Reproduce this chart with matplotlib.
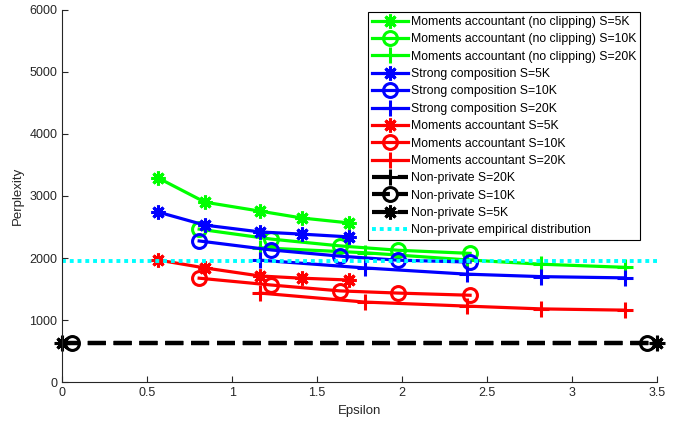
import numpy as np
import matplotlib
matplotlib.use("Agg")
import matplotlib.pyplot as plt

plt.rcParams["font.family"] = ["Liberation Sans", "DejaVu Sans"]

# epsilon values per batch size
eps_5k = [0.565, 0.84, 1.165, 1.41, 1.69]
eps_10k = [0.806, 1.23, 1.635, 1.976, 2.40]
eps_20k = [1.165, 1.78, 2.38, 2.82, 3.31]

# perplexity values
ma_noclip_5k = [3290, 2900, 2755, 2645, 2565]
ma_noclip_10k = [2465, 2305, 2195, 2125, 2075]
ma_noclip_20k = [2165, 2085, 1970, 1900, 1850]
strong_5k = [2740, 2530, 2420, 2385, 2340]
strong_10k = [2275, 2130, 2030, 1965, 1935]
strong_20k = [1965, 1840, 1740, 1700, 1680]
ma_5k = [1968, 1840, 1710, 1675, 1645]
ma_10k = [1675, 1565, 1470, 1435, 1400]
ma_20k = [1435, 1290, 1225, 1180, 1160]

nonpriv_20k_x = [0.0, 3.5]
nonpriv_20k = [630, 630]
nonpriv_10k_x = [0.0, 0.055, 3.44, 3.5]
nonpriv_10k = [630, 630, 630, 630]
nonpriv_5k_x = [0.0, 3.5]
nonpriv_5k = [630, 630]
empirical_x = [0.0, 3.5]
empirical = [1950, 1950]

ast = (8, 2, 0)

fig = plt.figure(figsize=(6.83, 4.26), dpi=100)
ax = fig.add_axes([0.091, 0.103, 0.871, 0.874])

lw = 2.3
series = [
    (eps_5k, ma_noclip_5k, "#00FF00", ast, "Moments accountant (no clipping) S=5K"),
    (eps_10k, ma_noclip_10k, "#00FF00", "o", "Moments accountant (no clipping) S=10K"),
    (eps_20k, ma_noclip_20k, "#00FF00", "+", "Moments accountant (no clipping) S=20K"),
    (eps_5k, strong_5k, "#0000FF", ast, "Strong composition S=5K"),
    (eps_10k, strong_10k, "#0000FF", "o", "Strong composition S=10K"),
    (eps_20k, strong_20k, "#0000FF", "+", "Strong composition S=20K"),
    (eps_5k, ma_5k, "#FF0000", ast, "Moments accountant S=5K"),
    (eps_10k, ma_10k, "#FF0000", "o", "Moments accountant S=10K"),
    (eps_20k, ma_20k, "#FF0000", "+", "Moments accountant S=20K"),
]
for x, y, c, m, lab in series:
    ax.plot(x, y, color=c, lw=lw, marker=m, markersize=10 if m != "+" else 12,
            markerfacecolor="none" if m == "o" else c, markeredgecolor=c,
            markeredgewidth=2.2, label=lab)

black = [
    (nonpriv_20k_x, nonpriv_20k, "+", None, "Non-private S=20K"),
    (nonpriv_10k_x, nonpriv_10k, "o", [1, 2], "Non-private S=10K"),
    (nonpriv_5k_x, nonpriv_5k, ast, None, "Non-private S=5K"),
]
for x, y, m, every, lab in black:
    ax.plot(x, y, color="black", lw=3.0, ls=(0, (4.3, 1.9)), marker=m,
            markevery=every, markersize=10 if m != "+" else 12,
            markerfacecolor="none" if m == "o" else "black",
            markeredgewidth=2.2, label=lab, clip_on=False)

ax.plot(empirical_x, empirical, color="#00FFFF", lw=2.8, ls=(0, (1, 1)),
        label="Non-private empirical distribution")

ax.set_xlim(0, 3.5)
ax.set_ylim(0, 6000)
ax.set_xticks(np.arange(0, 3.51, 0.5))
ax.set_xticklabels(["0", "0.5", "1", "1.5", "2", "2.5", "3", "3.5"])
ax.set_yticks(np.arange(0, 6001, 1000))
ax.tick_params(direction="in", labelsize=9, colors="#262626", length=4)
for s in ["top", "right"]:
    ax.spines[s].set_visible(False)
for s in ["left", "bottom"]:
    ax.spines[s].set_color("#262626")
    ax.spines[s].set_linewidth(0.8)
ax.set_xlabel("Epsilon", fontsize=9.5, color="#262626")
ax.set_ylabel("Perplexity", fontsize=9.5, color="#262626")

leg = ax.legend(loc="upper right", bbox_to_anchor=(0.975, 1.0), fontsize=8.8,
                handlelength=3.0, handletextpad=0.2, labelspacing=0.44,
                borderpad=0.3, borderaxespad=0.2, fancybox=False,
                framealpha=1, edgecolor="black")
leg.get_frame().set_linewidth(0.8)

fig.savefig("out.png", dpi=100)
